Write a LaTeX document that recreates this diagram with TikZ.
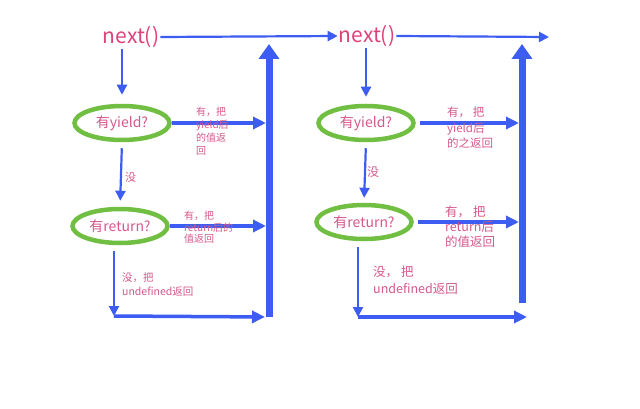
\documentclass[tikz,border=0pt]{standalone}
\usepackage{fontspec}
\setmainfont{Noto Sans CJK SC}
\usetikzlibrary{arrows.meta,shapes.geometric}
\definecolor{bl}{RGB}{60,92,242}
\definecolor{gr}{RGB}{112,190,66}
\definecolor{pk}{RGB}{222,66,122}
\definecolor{lpk}{RGB}{214,88,140}
\begin{document}
\begin{tikzpicture}[x=1pt,y=-1pt,
  cond/.style={ellipse,draw=gr,line width=4.5pt,minimum width=95pt,minimum height=34pt,inner sep=0pt,text=lpk,font=\fontsize{14}{14}\selectfont},
  fn/.style={text=pk,font=\fontsize{21}{21}\selectfont,inner sep=1pt},
  lbl/.style={text=lpk,align=left,anchor=north west,inner sep=0pt},
  thinarr/.style={draw=bl,line width=2.2pt,-{Triangle[length=10pt,width=10pt]}},
  midarr/.style={draw=bl,line width=3.5pt,-{Triangle[length=13pt,width=12pt]}},
  bigarr/.style={draw=bl,line width=7pt,-{Triangle[length=15pt,width=20pt]}},
]
\fill[white] (0,0) rectangle (640,409);
% nodes
\node[fn] (n1) at (131,37) {next()};
\node[fn] (n2) at (367,36) {next()};
\node[cond] (y1) at (122,123) {有yield?};
\node[cond] (r1) at (120,226) {有return?};
\node[cond] (y2) at (366,123) {有yield?};
\node[cond] (r2) at (364,222) {有return?};
% coordinates
\coordinate (e2) at (549,37);
\coordinate (b1) at (269,317);
\coordinate (u1) at (269,44);
\coordinate (c1) at (114,316);
\coordinate (b2) at (522,303);
\coordinate (u2) at (522,44);
\coordinate (c2) at (358,317);
\coordinate (d2) at (527,317);
% left column
\draw[thinarr] (n1.east) -- (n2.west);
\draw[thinarr] (n2.east) -- (e2);
\draw[thinarr,shorten >=9pt] (n1.south -| y1) -- (y1.north);
\draw[thinarr,shorten <=6pt,shorten >=6pt] (y1.south) -- (r1.north);
\draw[bigarr] (b1) -- (u1);
\draw[midarr,shorten >=3pt] (y1.east) -- (y1.east -| b1);
\draw[midarr,shorten >=3pt] (r1.east) -- (r1.east -| b1);
\draw[thinarr,shorten <=6pt] (r1.south -| c1) -- (c1);
\draw[midarr,shorten >=4pt] (c1) -- (b1);
% right column
\draw[thinarr,shorten >=7pt] (n2.south -| y2) -- (y2.north);
\draw[thinarr,shorten <=6pt,shorten >=5pt] (y2.south) -- (r2.north);
\draw[bigarr] (b2) -- (u2);
\draw[midarr,shorten >=3pt,shorten <=4pt] (y2.east) -- (y2.east -| b2);
\draw[midarr,shorten >=3pt,shorten <=4pt] (r2.east) -- (r2.east -| b2);
\draw[thinarr,shorten <=6pt] (r2.south -| c2) -- (c2);
\draw[midarr] (c2) -- (d2);
% labels
\node[lbl,font=\fontsize{10}{13}\selectfont] (ly1) at (196,107) {有，把\\yield后\\的值返\\回};
\node[lbl,font=\fontsize{10}{11.5}\selectfont] (lr1) at (184,211) {有，把\\return后的\\值返回};
\node[lbl,font=\fontsize{11}{11}\selectfont,anchor=west] (ln1) at (125,177) {没};
\node[lbl,font=\fontsize{10.5}{14}\selectfont] (lu1) at (122,272) {没，把\\undefined返回};
\node[lbl,font=\fontsize{11.5}{15.5}\selectfont] (ly2) at (447,107) {有， 把\\yield后\\的之返回};
\node[lbl,font=\fontsize{12.5}{15}\selectfont] (lr2) at (445,206) {有， 把\\return后\\的值返回};
\node[lbl,font=\fontsize{12}{12}\selectfont,anchor=west] (ln2) at (367,172) {没};
\node[lbl,font=\fontsize{12.5}{17}\selectfont] (lu2) at (373,266) {没， 把\\undefined返回};
\end{tikzpicture}
\end{document}
